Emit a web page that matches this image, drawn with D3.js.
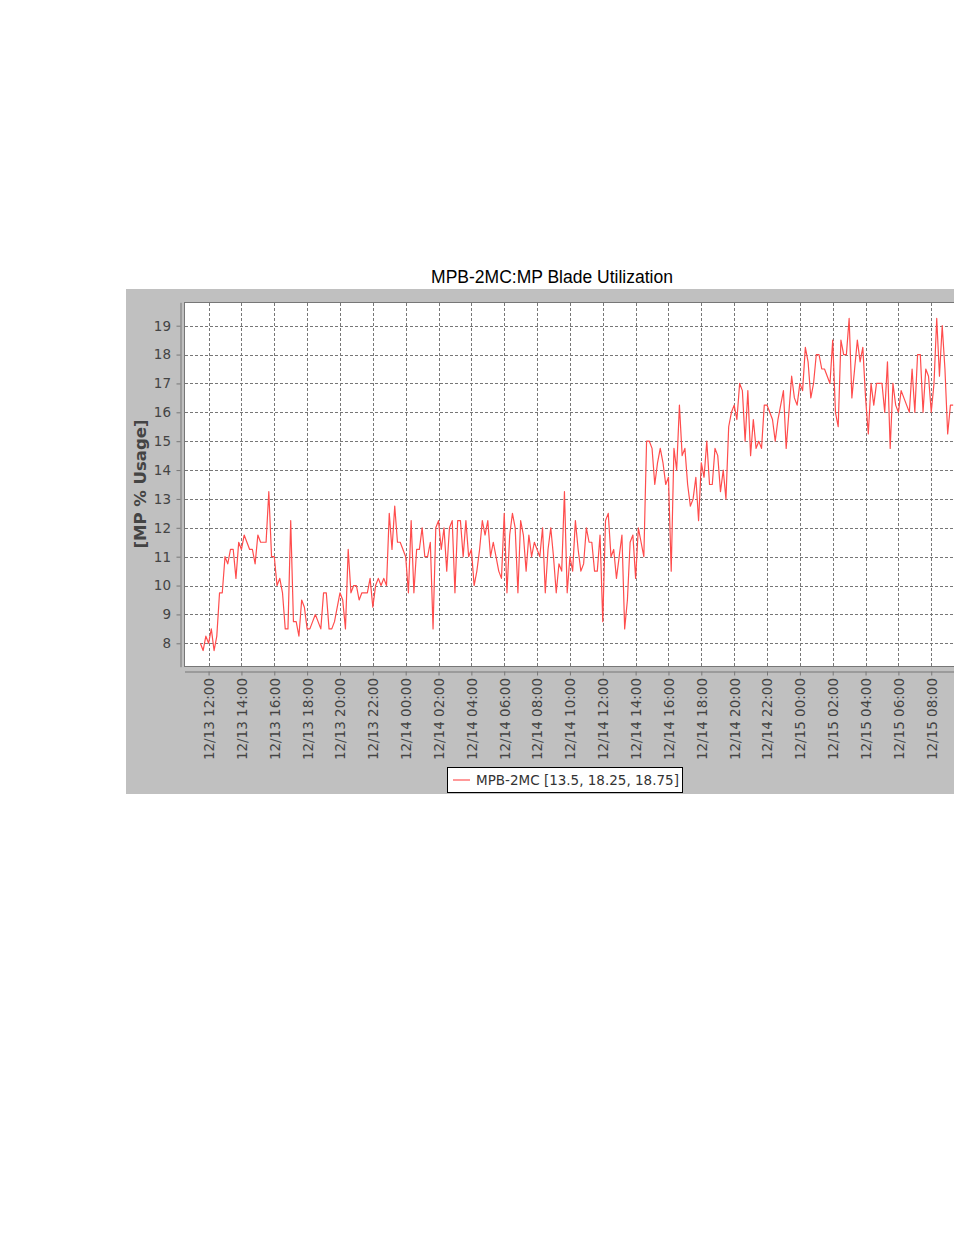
<!DOCTYPE html>
<html><head><meta charset="utf-8">
<script src="https://cdn.jsdelivr.net/npm/d3@7"></script>
<style>body{margin:0;background:#fff}svg{display:block}</style>
</head><body>
<svg id="chart" width="954" height="1235"></svg>
<script>
const chartTitle = "MPB-2MC:MP Blade Utilization";
const yAxisTitle = "[MP % Usage]";
const seriesName = "MPB-2MC";
const legendStats = [13.5, 18.25, 18.75];
const sampleStart = "12/13 11:30";
const sampleStepMinutes = 10;

// 10-minute samples, 12/13 11:30 .. 12/13 23:50
const usageDec13 = [
  8, 7.75, 8.25,
  8, 8.5, 7.75, 8.25, 9.75, 9.75,
  11, 10.75, 11.25, 11.25, 10.25, 11.5,
  11.25, 11.75, 11.5, 11.25, 11.25, 10.75,
  11.75, 11.5, 11.5, 11.5, 13.25, 11,
  11, 10, 10.25, 9.75, 8.5, 8.5,
  12.25, 8.75, 8.75, 8.25, 9.5, 9.25,
  8.5, 8.5, 8.75, 9, 8.75, 8.5,
  9.75, 9.75, 8.5, 8.5, 8.75, 9.25,
  9.75, 9.5, 8.5, 11.25, 9.75, 10,
  10, 9.5, 9.75, 9.75, 9.75, 10.25,
  9.25, 10, 10.25, 10, 10.25, 10,
  12.5, 11.25, 12.75, 11.5, 11.5, 11.25
];
// 12/14 00:00 .. 12/14 23:50
const usageDec14 = [
  11, 9.75, 12.25, 9.75, 11.25, 11.25,
  12, 11, 11, 11.5, 8.5, 12,
  12.25, 11.25, 12, 10.5, 12, 12.25,
  9.75, 12.25, 12.25, 11, 12.25, 11,
  11.25, 10, 10.5, 11.25, 12.25, 11.75,
  12.25, 11, 11.5, 11, 10.5, 10.25,
  12.5, 9.75, 11.75, 12.5, 12, 9.75,
  12.25, 11.75, 10.5, 11.75, 11, 11.5,
  11.25, 11, 12, 9.75, 11.25, 12,
  11, 9.75, 10.75, 10.5, 13.25, 9.75,
  11, 10.5, 12.25, 11.25, 10.5, 10.75,
  12, 11.5, 11.5, 10.5, 10.5, 11.75,
  8.75, 12.25, 12.5, 11, 11.25, 10.25,
  11, 11.75, 8.5, 9.5, 11.5, 11.75,
  10.25, 12, 11.5, 11, 15, 15,
  14.75, 13.5, 14.25, 14.75, 14.25, 13.5,
  13.75, 10.5, 14.75, 14, 16.25, 14.5,
  14.75, 13.5, 12.75, 13, 13.75, 12.25,
  14.25, 13.75, 15, 13.5, 13.5, 14.75,
  14.5, 13.25, 14, 13, 15.5, 16,
  16.25, 15.75, 17, 16.75, 15, 16.75,
  14.5, 15.75, 14.75, 15, 14.75, 16.25,
  16.25, 16, 15.75, 15, 15.75, 16.25,
  16.75, 14.75, 16, 17.25, 16.5, 16.25
];
// 12/15 00:00 .. 12/15 09:20
const usageDec15 = [
  17, 16.75, 18.25, 17.75, 16.5, 17,
  18, 18, 17.5, 17.5, 17.25, 17,
  18.5, 16, 15.5, 18.5, 18, 18,
  19.25, 16.5, 17.5, 18.5, 17.75, 18.25,
  16.5, 15.25, 17, 16.25, 17, 17,
  17, 16, 17.75, 14.75, 17, 16.25,
  16, 16.75, 16.5, 16.25, 16, 17.5,
  16, 18, 18, 16, 17.5, 17.25,
  16, 17, 19.25, 17.25, 19, 17.5,
  15.25, 16.25, 16.25
];

const yTicks = [8, 9, 10, 11, 12, 13, 14, 15, 16, 17, 18, 19];
const xTickLabels = [
  "12/13 12:00", "12/13 14:00", "12/13 16:00", "12/13 18:00", "12/13 20:00", "12/13 22:00",
  "12/14 00:00", "12/14 02:00", "12/14 04:00", "12/14 06:00", "12/14 08:00", "12/14 10:00",
  "12/14 12:00", "12/14 14:00", "12/14 16:00", "12/14 18:00", "12/14 20:00", "12/14 22:00",
  "12/15 00:00", "12/15 02:00", "12/15 04:00", "12/15 06:00", "12/15 08:00"
];
const xDomainLabels = ["12/13 10:32", "12/15 09:45"];
const yDomain = [7.19, 19.81];

const parse = d3.timeParse("%m/%d %H:%M");
const fmt = d3.timeFormat("%m/%d %H:%M");
const t0 = parse(sampleStart);
const values = usageDec13.concat(usageDec14, usageDec15);
const data = values.map((v, i) => ({t: d3.timeMinute.offset(t0, i * sampleStepMinutes), v}));

const svg = d3.select("#chart");
const FONT = "'DejaVu Sans', Verdana, sans-serif";

const plot = {left: 184.5, top: 302.5, right: 960, bottom: 666.5};

svg.append("rect").attr("x", 126).attr("y", 289).attr("width", 954 - 126).attr("height", 794 - 289)
  .attr("fill", "#c0c0c0");

svg.append("text").attr("x", 552).attr("y", 283).attr("text-anchor", "middle")
  .attr("font-family", "'Liberation Sans', Arial, sans-serif").attr("font-size", 17.5)
  .attr("fill", "#000").text(chartTitle);

const x = d3.scaleTime().domain(xDomainLabels.map(parse)).range([plot.left, plot.right]);
const y = d3.scaleLinear().domain(yDomain).range([666.7, 302.3]);

svg.append("rect").attr("x", plot.left).attr("y", plot.top)
  .attr("width", plot.right - plot.left).attr("height", plot.bottom - plot.top)
  .attr("fill", "#fff").attr("stroke", "#777").attr("stroke-width", 1);

const xTicks = xTickLabels.map(parse);

const grid = svg.append("g").attr("stroke", "#777").attr("stroke-width", 1)
  .attr("stroke-dasharray", "3,2");
grid.selectAll("line.v").data(xTicks).join("line").attr("class", "v")
  .attr("x1", d => Math.round(x(d)) + 0.5).attr("x2", d => Math.round(x(d)) + 0.5)
  .attr("y1", plot.top + 0.5).attr("y2", plot.bottom - 0.5);
grid.selectAll("line.h").data(yTicks).join("line").attr("class", "h")
  .attr("x1", plot.left + 0.5).attr("x2", plot.right)
  .attr("y1", d => Math.round(y(d)) + 0.5).attr("y2", d => Math.round(y(d)) + 0.5);

svg.append("clipPath").attr("id", "clip").append("rect")
  .attr("x", plot.left).attr("y", plot.top)
  .attr("width", plot.right - plot.left).attr("height", plot.bottom - plot.top);

const line = d3.line().x(d => x(d.t)).y(d => y(d.v));
svg.append("path").datum(data).attr("clip-path", "url(#clip)")
  .attr("fill", "none").attr("stroke", "#ff4d4d").attr("stroke-width", 1.2)
  .attr("stroke-linejoin", "round").attr("d", line);

const yAxis = svg.append("g").attr("transform", "translate(180.5,0)")
  .call(d3.axisLeft(y).tickValues(yTicks).tickSize(4).tickSizeOuter(0).tickPadding(5.5));
yAxis.select(".domain").attr("stroke", "#777");
yAxis.selectAll(".tick line").attr("stroke", "#777");
yAxis.selectAll(".tick text").attr("font-family", FONT).attr("font-size", 13.5).attr("fill", "#444");

const xAxis = svg.append("g").attr("transform", "translate(0,671.5)")
  .call(d3.axisBottom(x).tickValues(xTicks).tickFormat(fmt).tickSize(4).tickSizeOuter(0));
xAxis.select(".domain").attr("stroke", "#777");
xAxis.selectAll(".tick line").attr("stroke", "#777");
xAxis.selectAll(".tick text").attr("font-family", FONT).attr("font-size", 13.5).attr("fill", "#444")
  .attr("text-anchor", "end").attr("transform", "rotate(-90)")
  .attr("x", -6.5).attr("y", 0).attr("dy", "0.36em");

svg.append("text").attr("transform", "translate(146,484) rotate(-90)")
  .attr("text-anchor", "middle").attr("font-family", FONT).attr("font-weight", "bold")
  .attr("font-size", 16.5).attr("fill", "#444").text(yAxisTitle);

const lg = svg.append("g");
lg.append("rect").attr("x", 447.5).attr("y", 767.5).attr("width", 235).attr("height", 25)
  .attr("fill", "#fff").attr("stroke", "#000").attr("stroke-width", 1);
lg.append("line").attr("x1", 453).attr("x2", 470).attr("y1", 780).attr("y2", 780)
  .attr("stroke", "#ff5555").attr("stroke-width", 1.2);
lg.append("text").attr("x", 476).attr("y", 785).attr("font-family", FONT).attr("font-size", 13.5)
  .attr("fill", "#333").text(`${seriesName} [${legendStats.join(", ")}]`);
</script>
</body></html>
